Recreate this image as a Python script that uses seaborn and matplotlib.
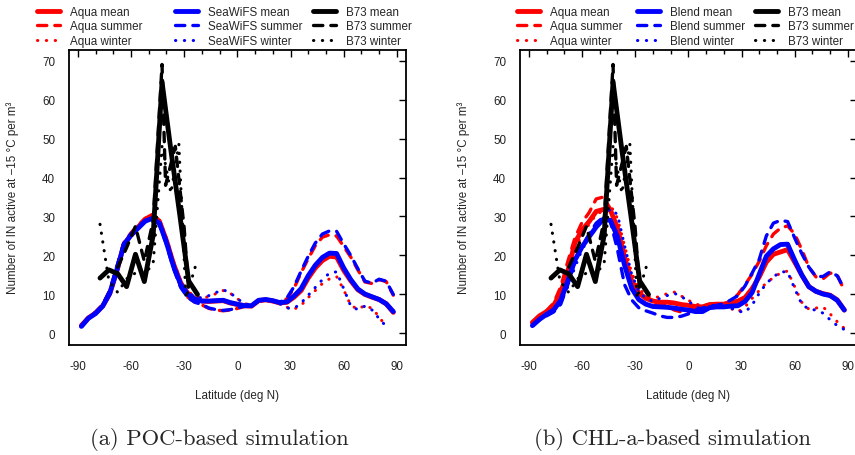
import numpy as np
import seaborn as sns
import matplotlib.pyplot as plt
from matplotlib.lines import Line2D

# latitude grid of the satellite based curves (deg N)
LAT = [-88, -84, -80, -76, -72, -68, -64, -60, -56, -52, -48, -44, -40, -36, -32,
       -28, -24, -20, -16, -12, -8, -4, 0, 4, 8, 12, 16, 20, 24, 28, 32, 36, 40,
       44, 48, 52, 56, 60, 64, 68, 72, 76, 80, 84, 88]
nan = np.nan

# (a) POC-based simulation
POC_AQUA_MEAN = [2.0, 4.0, 5.2, 7.0, 10.2, 16.0, 22.8, 25.3, 27.3, 29.3, 30.3, 28.8, 23.8, 17.8, 13.0,
                 10.3, 8.9, 8.3, 8.2, 8.3, 8.4, 7.8, 7.4, 7.1, 7.0, 8.4, 8.6, 8.3, 7.8, 8.0, 9.3, 11.0, 14.2,
                 16.8, 18.7, 19.8, 19.6, 16.2, 13.5, 11.2, 10.0, 9.3, 8.7, 7.6, 5.4]
POC_AQUA_SUM = [2.2, 4.1, 5.5, 7.4, 11.0, 17.0, 23.3, 25.8, 27.8, 29.5, 30.2, 28.5, 23.2, 17.0, 12.0,
                9.3, 8.0, 7.3, 6.4, 6.0, 5.8, 6.0, 6.4, 6.9, 7.2, 8.3, 8.5, 8.2, 7.9, 8.9, 11.6, 15.6, 19.2,
                22.5, 24.7, 25.3, 25.0, 22.3, 19.6, 16.3, 13.2, 12.8, 13.8, 13.3, 9.8]
POC_AQUA_WIN = [2.3, 4.2, 5.4, 7.2, 10.8, 16.5, 22.5, 25.0, 27.0, 29.0, 30.0, 29.0, 24.5, 18.5, 13.5,
                10.8, 9.5, 9.0, 9.5, 10.2, 11.0, 10.3, 8.9, 7.6, 7.3, 8.4, 8.6, 8.2, 7.6, 6.7, 6.2, 7.2, 9.2,
                11.0, 12.8, 14.0, 14.6, 11.2, 7.2, 6.2, 7.2, 6.4, 4.3, 1.6, nan]
POC_SWF_MEAN = [1.8, 3.9, 5.1, 7.0, 10.3, 16.2, 22.8, 25.2, 27.0, 28.8, 29.5, 28.3, 23.3, 17.2, 12.6,
                10.0, 8.8, 8.3, 8.3, 8.4, 8.5, 7.9, 7.5, 7.1, 7.1, 8.5, 8.7, 8.4, 7.9, 8.1, 9.6, 11.5, 14.8,
                17.5, 19.5, 20.6, 20.5, 16.8, 13.8, 11.4, 10.1, 9.4, 8.7, 7.6, 5.6]
POC_SWF_SUM = [2.0, 4.0, 5.4, 7.3, 11.0, 17.2, 23.2, 25.6, 27.5, 29.0, 29.6, 28.0, 22.8, 16.6, 11.8,
               9.2, 8.0, 7.4, 6.5, 6.1, 5.9, 6.1, 6.5, 7.0, 7.3, 8.4, 8.6, 8.3, 8.0, 9.1, 12.0, 16.0, 19.8,
               23.2, 25.5, 26.3, 26.2, 23.0, 20.0, 16.6, 13.4, 12.9, 13.9, 13.4, 10.0]
POC_SWF_WIN = [2.1, 4.1, 5.3, 7.1, 10.7, 16.4, 22.3, 24.8, 26.8, 28.6, 29.5, 28.6, 24.0, 18.0, 13.2,
               10.6, 9.4, 9.1, 9.7, 10.5, 11.2, 10.4, 8.9, 7.6, 7.3, 8.5, 8.7, 8.3, 7.6, 6.5, 6.4, 7.8, 9.8,
               11.8, 13.8, 15.5, 15.8, 11.5, 7.0, 6.1, 7.0, 6.0, 3.8, 1.8, nan]

# (b) CHL-a-based simulation
CHL_AQUA_MEAN = [2.8, 4.5, 5.6, 7.2, 10.5, 16.0, 23.3, 26.5, 28.7, 31.3, 31.8, 31.7, 27.0, 19.5, 13.5,
                 10.4, 9.0, 8.3, 8.0, 8.0, 7.8, 7.4, 7.2, 6.9, 6.8, 7.4, 7.5, 7.5, 7.8, 8.3, 9.2, 11.5, 14.5,
                 18.3, 20.3, 20.9, 21.5, 18.3, 15.0, 12.0, 10.8, 10.2, 9.8, 8.6, 6.0]
CHL_AQUA_SUM = [2.8, 4.5, 5.8, 7.8, 12.0, 18.5, 24.5, 28.5, 31.0, 34.5, 35.0, 32.0, 26.0, 17.5, 11.5,
                8.5, 7.5, 7.2, 7.6, 7.2, 6.0, 5.5, 5.6, 6.5, 6.8, 7.2, 7.5, 7.6, 8.3, 10.0, 12.5, 15.2, 18.5,
                22.5, 25.5, 27.0, 27.6, 25.5, 21.5, 17.0, 14.5, 14.0, 15.5, 15.0, 11.0]
CHL_AQUA_WIN = [2.8, 4.4, 5.6, 7.0, 10.0, 15.0, 21.5, 25.5, 28.0, 30.5, 31.5, 33.0, 29.5, 22.5, 15.5,
                11.5, 9.8, 9.0, 9.5, 10.2, 10.6, 9.6, 8.5, 7.5, 7.2, 7.4, 7.6, 7.2, 6.4, 5.5, 6.8, 9.0, 11.0,
                13.0, 14.3, 15.5, 16.0, 12.0, 8.0, 6.2, 6.5, 6.8, 5.0, 3.0, 1.3]
CHL_BLEND_MEAN = [2.0, 3.6, 4.9, 6.0, 8.5, 13.5, 18.8, 22.2, 24.8, 27.3, 29.3, 29.0, 24.8, 17.5, 11.6,
                  8.7, 7.5, 6.9, 6.8, 6.7, 6.5, 6.2, 6.0, 5.6, 5.6, 6.6, 6.8, 6.8, 7.0, 7.1, 8.2, 10.5, 15.2,
                  19.8, 21.7, 22.8, 22.9, 18.8, 15.0, 12.0, 10.8, 10.1, 9.7, 8.5, 6.0]
CHL_BLEND_SUM = [2.0, 3.5, 4.5, 5.5, 7.5, 12.5, 18.6, 22.3, 25.5, 28.3, 29.8, 28.8, 21.5, 12.5, 8.6,
                 6.6, 5.8, 5.2, 4.5, 4.1, 4.1, 4.4, 5.0, 6.0, 6.5, 7.0, 7.2, 7.6, 8.6, 9.7, 12.2, 15.5, 19.0,
                 25.0, 28.3, 29.0, 28.7, 24.5, 20.5, 17.0, 14.6, 14.6, 15.8, 14.8, 11.4]
CHL_BLEND_WIN = [2.0, 3.5, 4.8, 5.8, 8.0, 12.0, 17.0, 21.5, 24.5, 27.0, 29.5, 32.0, 30.5, 22.5, 15.2,
                 10.8, 9.0, 8.2, 9.0, 9.7, 10.3, 9.5, 8.2, 7.0, 6.0, 6.6, 6.8, 6.8, 6.5, 5.7, 5.4, 7.3, 10.3,
                 12.8, 14.5, 15.8, 15.8, 11.5, 7.5, 6.2, 6.0, 5.2, 3.5, 2.0, 1.0]

# B73 observations (same in both panels)
B73_LAT = [-77.5, -72.5, -67.5, -62.5, -57.5, -52.5, -47.5, -42.5, -37.5, -32.5, -27.5, -22.5]
B73_MEAN = [14.2, 16.3, 15.3, 12.0, 20.3, 13.3, 25.2, 64.5, 47.0, 30.5, 13.5, 10.0]
B73_SUM_LAT = [-67.5, -62.5, -57.5, -52.5, -47.5, -42.5, -40.5, -35.0, -30.0, -27.5]
B73_SUM = [17.0, 22.0, 27.5, 18.5, 29.0, 69.0, 38.0, 48.0, 27.0, 11.0]
B73_WIN_LAT = [-77.5, -72.5, -67.5, -62.5, -57.5, -52.5, -47.5, -42.5, -37.5, -33.0, -29.0, -22.5]
B73_WIN = [28.0, 13.5, 10.5, 14.0, 15.5, 15.0, 18.0, 48.0, 36.0, 48.5, 9.0, 19.0]

sns.set_theme(style="white")
plt.rcParams['font.family'] = ['Liberation Sans', 'DejaVu Sans']
plt.rcParams['axes.unicode_minus'] = False

W, H = 855, 456
fig = plt.figure(figsize=(W / 100, H / 100), dpi=100)

# line styles: mean solid, summer dashed, winter dotted
STYLES = {
    'mean': dict(lw=3.5, ls='-'),
    'summer': dict(lw=2.4, ls=(0, (2.8, 2.4))),
    'winter': dict(lw=2.2, ls=(0, (0.1, 2.8))),
}


def line(ax, x, y, color, kind):
    st = STYLES[kind]
    sns.lineplot(x=x, y=y, ax=ax, color=color, linewidth=st['lw'], linestyle=st['ls'],
                 solid_capstyle='round', dash_capstyle='round', sort=False, estimator=None)


def panel(ax, sat1, sat2):
    for vals, color in [(sat1, 'red'), (sat2, 'blue')]:
        line(ax, LAT, vals[0], color, 'mean')
        line(ax, LAT, vals[1], color, 'summer')
        line(ax, LAT, vals[2], color, 'winter')
    line(ax, B73_LAT, B73_MEAN, 'black', 'mean')
    line(ax, B73_SUM_LAT, B73_SUM, 'black', 'summer')
    line(ax, B73_WIN_LAT, B73_WIN, 'black', 'winter')

    ax.set_xlim(-95, 95)
    ax.set_ylim(-2.9, 72.8)
    ax.set_xticks([-90, -60, -30, 0, 30, 60, 90])
    ax.set_xticks(range(-90, 91, 10), minor=True)
    ax.set_yticks(range(0, 71, 10))
    ax.tick_params(which='both', direction='in', top=True, right=True, color='black',
                   labelsize=8.4, labelcolor='#222222')
    ax.tick_params(which='major', length=5, width=1.0)
    ax.tick_params(which='minor', length=3, width=1.0)
    ax.tick_params(axis='x', pad=11)
    ax.tick_params(axis='y', pad=10)
    for sp in ax.spines.values():
        sp.set_color('black')
        sp.set_linewidth(1.3)
    ax.set_xlabel('Latitude (deg N)', fontsize=8.4, labelpad=12)
    ax.set_ylabel('Number of IN active at \u221215 \u00b0C per m\u00b3', fontsize=8.4, labelpad=17)


def legends(x_starts, names):
    y_top = 1 - 7 / H
    for x0, name, color in zip(x_starts, names, ['red', 'blue', 'black']):
        handles = []
        for kind in ['mean', 'summer', 'winter']:
            st = STYLES[kind]
            handles.append(Line2D([], [], color=color, lw=st['lw'], ls=st['ls'],
                                  solid_capstyle='round', dash_capstyle='round'))
        fig.legend(handles, [name + ' mean', name + ' summer', name + ' winter'],
                   loc='upper left', bbox_to_anchor=(x0 / W, y_top), frameon=False,
                   borderpad=0, borderaxespad=0, handlelength=2.0, handletextpad=0.85,
                   labelspacing=0.2, fontsize=8.4)


ax_a = fig.add_axes([69 / W, 1 - 345.7 / H, 336.7 / W, 295 / H])
ax_b = fig.add_axes([520 / W, 1 - 345.7 / H, 336.7 / W, 295 / H])

panel(ax_a, (POC_AQUA_MEAN, POC_AQUA_SUM, POC_AQUA_WIN), (POC_SWF_MEAN, POC_SWF_SUM, POC_SWF_WIN))
panel(ax_b, (CHL_AQUA_MEAN, CHL_AQUA_SUM, CHL_AQUA_WIN), (CHL_BLEND_MEAN, CHL_BLEND_SUM, CHL_BLEND_WIN))

legends([37, 175, 313], ['Aqua', 'SeaWiFS', 'B73'])
legends([517, 637, 755], ['Aqua', 'Blend', 'B73'])

fig.text(219.5 / W, 1 - 440 / H, '(a) POC-based simulation', ha='center', va='center',
         family='cmr10', fontsize=16.3)
fig.text(672 / W, 1 - 440 / H, '(b) CHL-a-based simulation', ha='center', va='center',
         family='cmr10', fontsize=16.3)

fig.savefig('out.png', dpi=100)
